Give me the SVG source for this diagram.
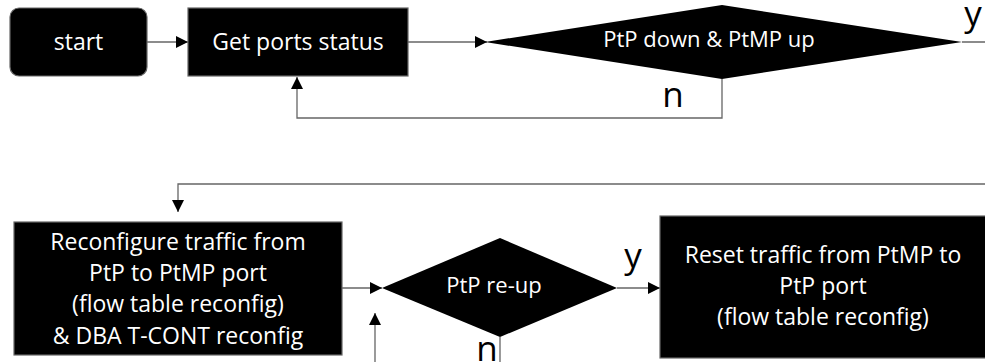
<svg xmlns="http://www.w3.org/2000/svg" width="985" height="362" viewBox="0 0 985 362">
<defs>
<marker id="arr" markerUnits="userSpaceOnUse" markerWidth="13" markerHeight="13" refX="12" refY="6" orient="auto">
<path d="M0,0 L12,6 L0,12 z" fill="#000"/>
</marker>
<style>
.box{fill:#000;stroke:#666;stroke-width:1.2}
.t{font-family:"Open Sans","Segoe UI","DejaVu Sans",sans-serif;fill:#fff;text-anchor:middle;font-size:23px}
.lbl{font-family:"Open Sans","Segoe UI","DejaVu Sans",sans-serif;fill:#000;text-anchor:middle;font-size:35px}
.c{fill:none;stroke:#666;stroke-width:1.3}
</style>
</defs>
<rect width="985" height="362" fill="#fff"/>
<g id="connectors">
<path class="c" d="M147,42 H188" marker-end="url(#arr)"/>
<path class="c" d="M408,42 H487" marker-end="url(#arr)"/>
<path class="c" d="M962,42 H992 V184 H178 V212" marker-end="url(#arr)"/>
<path class="c" d="M722,79 V118 H297 V77" marker-end="url(#arr)"/>
<path class="c" d="M342,288 H382" marker-end="url(#arr)"/>
<path class="c" d="M617,288 H660" marker-end="url(#arr)"/>
<path class="c" d="M500,337 V375 H375 V313" marker-end="url(#arr)"/>
<text class="lbl" x="973" y="26">y</text>
<text class="lbl" x="673" y="107">n</text>
<text class="lbl" x="633" y="268">y</text>
<text class="lbl" x="487" y="361">n</text>
</g>
<g id="start">
<rect class="box" x="10" y="8" width="137" height="68" rx="9"/>
<text class="t" x="78.5" y="50">start</text>
</g>
<g id="get-ports">
<rect class="box" x="188" y="8" width="220" height="68"/>
<text class="t" x="298" y="50">Get ports status</text>
</g>
<g id="decision1">
<polygon points="485,42 722,5 962,42 722,79" fill="#000"/>
<text class="t" x="709" y="47" style="font-size:22px">PtP down &amp; PtMP up</text>
</g>
<g id="reconfigure">
<rect class="box" x="14" y="222" width="328" height="133"/>
<text class="t" x="178" y="250">Reconfigure traffic from</text>
<text class="t" x="178" y="281">PtP to PtMP port</text>
<text class="t" x="178" y="312">(flow table reconfig)</text>
<text class="t" x="178" y="344">&amp; DBA T-CONT reconfig</text>
</g>
<g id="decision2">
<polygon points="382,288 500,238 617,288 500,337" fill="#000"/>
<text class="t" x="494" y="293" style="font-size:22px">PtP re-up</text>
</g>
<g id="reset">
<rect class="box" x="660" y="216" width="326" height="142"/>
<text class="t" x="823" y="263">Reset traffic from PtMP to</text>
<text class="t" x="823" y="294">PtP port</text>
<text class="t" x="823" y="325">(flow table reconfig)</text>
</g>
</svg>
